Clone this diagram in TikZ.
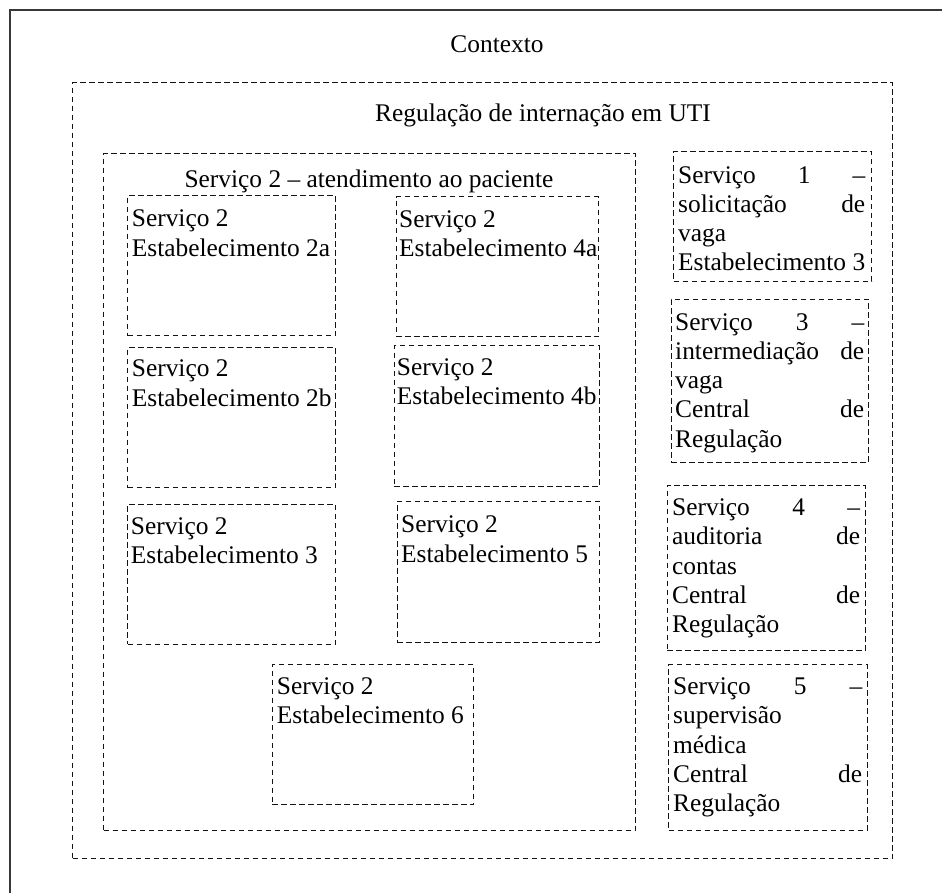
\documentclass[tikz,border=0pt]{standalone}
\usepackage{fontspec}
\setmainfont{Liberation Serif}
\begin{document}
\begin{tikzpicture}[x=1pt,y=-1pt,
  frameline/.style={draw=black!78, line width=1.6pt},
  dashbox/.style={draw=black!92, line width=1.4pt, dash pattern=on 5.5pt off 3.5pt,
    rectangle, inner sep=0pt, anchor=north west},
  boxtext/.style={inner sep=0pt, anchor=base west, font=\fontsize{25.4}{29.3}\selectfont},
  headtext/.style={inner sep=0pt, anchor=base, font=\fontsize{25.4}{29.3}\selectfont}]
\useasboundingbox (0,0) rectangle (942,892);

% outer context frame (runs past the page edges)
\begin{scope}
  \clip (0,0) rectangle (942,892);
  \draw[frameline] (10,10) rectangle (980,930);
\end{scope}
\node[headtext] (contexto) at (497,52.4) {Contexto};

% regulation area
\node[dashbox, minimum width=820pt, minimum height=776pt] (regul) at (72,82) {};
\node[headtext] (regultitle) at (543,121.4) {Regulação de internação em UTI};

% patient care service
\node[dashbox, minimum width=532pt, minimum height=677pt] (serv2) at (103,153) {};
\node[headtext] (serv2title) at (369,187.4) {Serviço 2 – atendimento ao paciente};

% establishments
\newcommand{\estab}[7]{%
  \node[dashbox, minimum width=#4pt, minimum height=#5pt] (e#1) at (#2,#3) {};
  \node[boxtext] (e#1t) at (#6,#7) {\begin{tabular}[t]{@{}l@{}}Serviço 2\\ Estabelecimento #1\end{tabular}};}
\estab{2a}{127}{195}{208}{140}{131.7}{226.7}
\estab{4a}{395.5}{196}{202.5}{140}{399}{227}
\estab{2b}{127}{347}{208}{140}{131.7}{376.7}
\estab{4b}{393.5}{345}{205}{141}{396.7}{375.5}
\estab{3}{127}{503.5}{208}{140}{130.7}{534.3}
\estab{5}{396.5}{500.5}{202}{141}{401}{532.7}
\estab{6}{271.5}{664}{201.5}{140}{276.7}{694.5}

% services on the right, justified lines
\newcommand{\jline}[2]{\makebox[#1pt][s]{#2}}
\newcommand{\lline}[2]{\makebox[#1pt][l]{#2}}

\node[dashbox, minimum width=198pt, minimum height=130pt] (s1) at (673,150.5) {};
\node[boxtext] (s1t) at (678,183) {\begin{tabular}[t]{@{}l@{}}%
  \jline{187}{Serviço 1 –}\\ \jline{187}{solicitação de}\\ \lline{187}{vaga}\\ \jline{187}{Estabelecimento 3}\end{tabular}};

\node[dashbox, minimum width=197.5pt, minimum height=163pt] (s3) at (670.5,298.5) {};
\node[boxtext] (s3t) at (675,330) {\begin{tabular}[t]{@{}l@{}}%
  \jline{189}{Serviço 3 –}\\ \jline{189}{intermediação de}\\ \lline{189}{vaga}\\ \jline{189}{Central de}\\ \lline{189}{Regulação}\end{tabular}};

\node[dashbox, minimum width=198pt, minimum height=165.5pt] (s4) at (666.5,484.5) {};
\node[boxtext] (s4t) at (672,515.5) {\begin{tabular}[t]{@{}l@{}}%
  \jline{188}{Serviço 4 –}\\ \jline{188}{auditoria de}\\ \lline{188}{contas}\\ \jline{188}{Central de}\\ \lline{188}{Regulação}\end{tabular}};

\node[dashbox, minimum width=198.5pt, minimum height=165.5pt] (s5) at (668,664) {};
\node[boxtext] (s5t) at (673,694.5) {\begin{tabular}[t]{@{}l@{}}%
  \jline{189}{Serviço 5 –}\\ \lline{189}{supervisão}\\ \lline{189}{médica}\\ \jline{189}{Central de}\\ \lline{189}{Regulação}\end{tabular}};
\end{tikzpicture}
\end{document}
